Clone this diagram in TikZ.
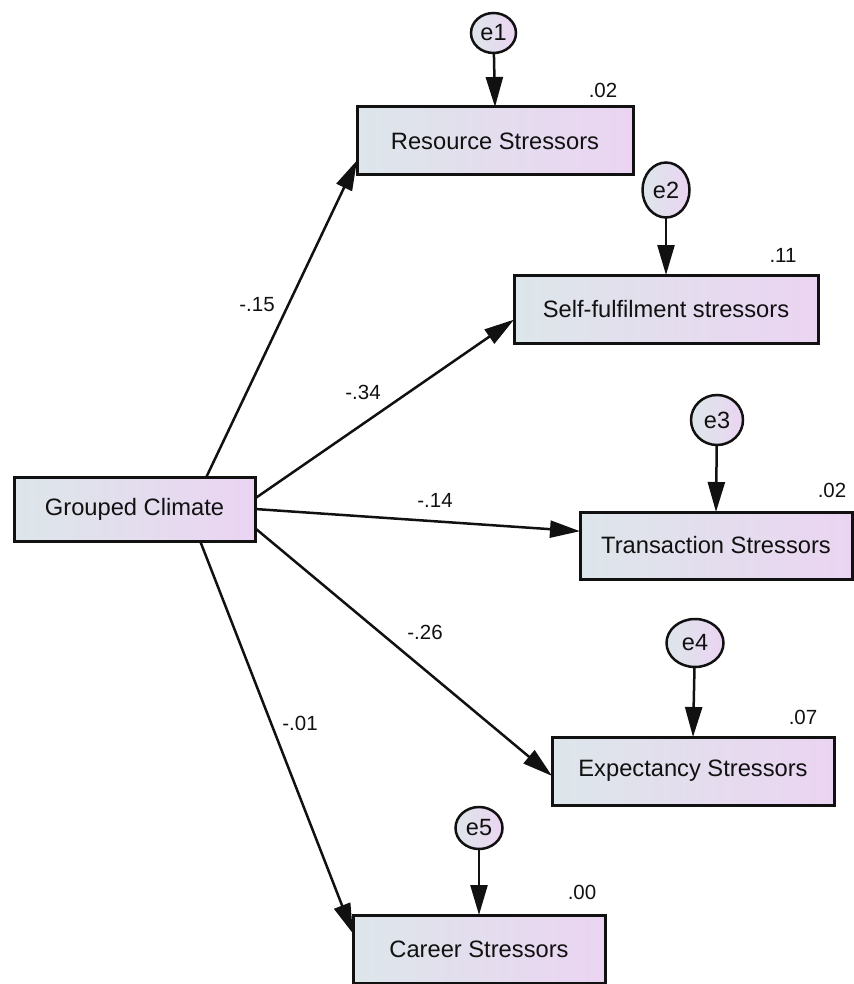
\documentclass[tikz,border=0pt]{standalone}
\usepackage{fontspec}
\setmainfont{Liberation Sans}
\usetikzlibrary{arrows.meta,shapes.geometric}
\definecolor{shadeL}{HTML}{DDE6EA}
\definecolor{shadeR}{HTML}{EBD4F2}
\definecolor{ink}{HTML}{111111}
\begin{document}
\begin{tikzpicture}[x=1pt,y=-1pt,
  varbox/.style={rectangle,draw=ink,line width=3pt,left color=shadeL,right color=shadeR,
    inner sep=0pt,outer sep=0pt,text=ink,font=\fontsize{23.7}{28}\selectfont},
  errnode/.style={ellipse,draw=ink,line width=2.5pt,left color=shadeL,right color=shadeR,
    inner sep=0pt,outer sep=0pt,text=ink,font=\fontsize{23.5}{28}\selectfont},
  link/.style={draw=ink,line width=2.5pt,-{Triangle[length=30pt,width=17pt]}},
  coef/.style={text=ink,inner sep=0pt,font=\fontsize{20.5}{24}\selectfont}]
\useasboundingbox (0,0) rectangle (853,984);

% observed variables
\node[varbox,minimum width=241pt,minimum height=64pt] (gc)    at (134.5,509)  {Grouped Climate};
\node[varbox,minimum width=276pt,minimum height=68pt] (res)   at (495,141)    {Resource Stressors};
\node[varbox,minimum width=304pt,minimum height=68pt] (self)  at (666,309)    {Self-fulfilment stressors};
\node[varbox,minimum width=272pt,minimum height=67pt] (trans) at (716,545.5)  {Transaction Stressors};
\node[varbox,minimum width=282pt,minimum height=68pt] (expc)  at (693,771)    {Expectancy Stressors};
\node[varbox,minimum width=252pt,minimum height=68pt] (car)   at (479,949)    {Career Stressors};

% error terms
\node[errnode,minimum width=45pt,minimum height=40pt] (e1) at (493.5,33) {e1};
\node[errnode,minimum width=47pt,minimum height=55pt] (e2) at (666,190)  {e2};
\node[errnode,minimum width=52pt,minimum height=50pt] (e3) at (717,420)  {e3};
\node[errnode,minimum width=57pt,minimum height=48pt] (e4) at (695,643)  {e4};
\node[errnode,minimum width=47pt,minimum height=42pt] (e5) at (479,828)  {e5};

% error paths
\draw[link] (e1) -- (res.north);
\draw[link] (e2) -- (self.north);
\draw[link] (e3) -- (trans.north);
\draw[link] (e4) -- (expc.north);
\draw[link] (e5) -- (car.north);

% regression paths
\draw[link] (gc.24.4)  -- (res.188.7);
\draw[link] (gc.5.2)   -- (self.184.9);
\draw[link] (gc.0.5)   -- (trans.174.75);
\draw[link] (gc.-9)    -- (expc.182.4);
\draw[link] (gc.-26)   -- (car.173.7);

% path coefficients
\node[coef] (c1) at (257,305) {-.15};
\node[coef] (c2) at (363,392) {-.34};
\node[coef] (c3) at (435,500) {-.14};
\node[coef] (c4) at (425,632) {-.26};
\node[coef] (c5) at (300,723) {-.01};

% squared multiple correlations
\node[coef] (r1) at (603,90)  {.02};
\node[coef] (r2) at (783,255) {.11};
\node[coef] (r3) at (832,490) {.02};
\node[coef] (r4) at (803,717) {.07};
\node[coef] (r5) at (582,892) {.00};
\end{tikzpicture}
\end{document}
